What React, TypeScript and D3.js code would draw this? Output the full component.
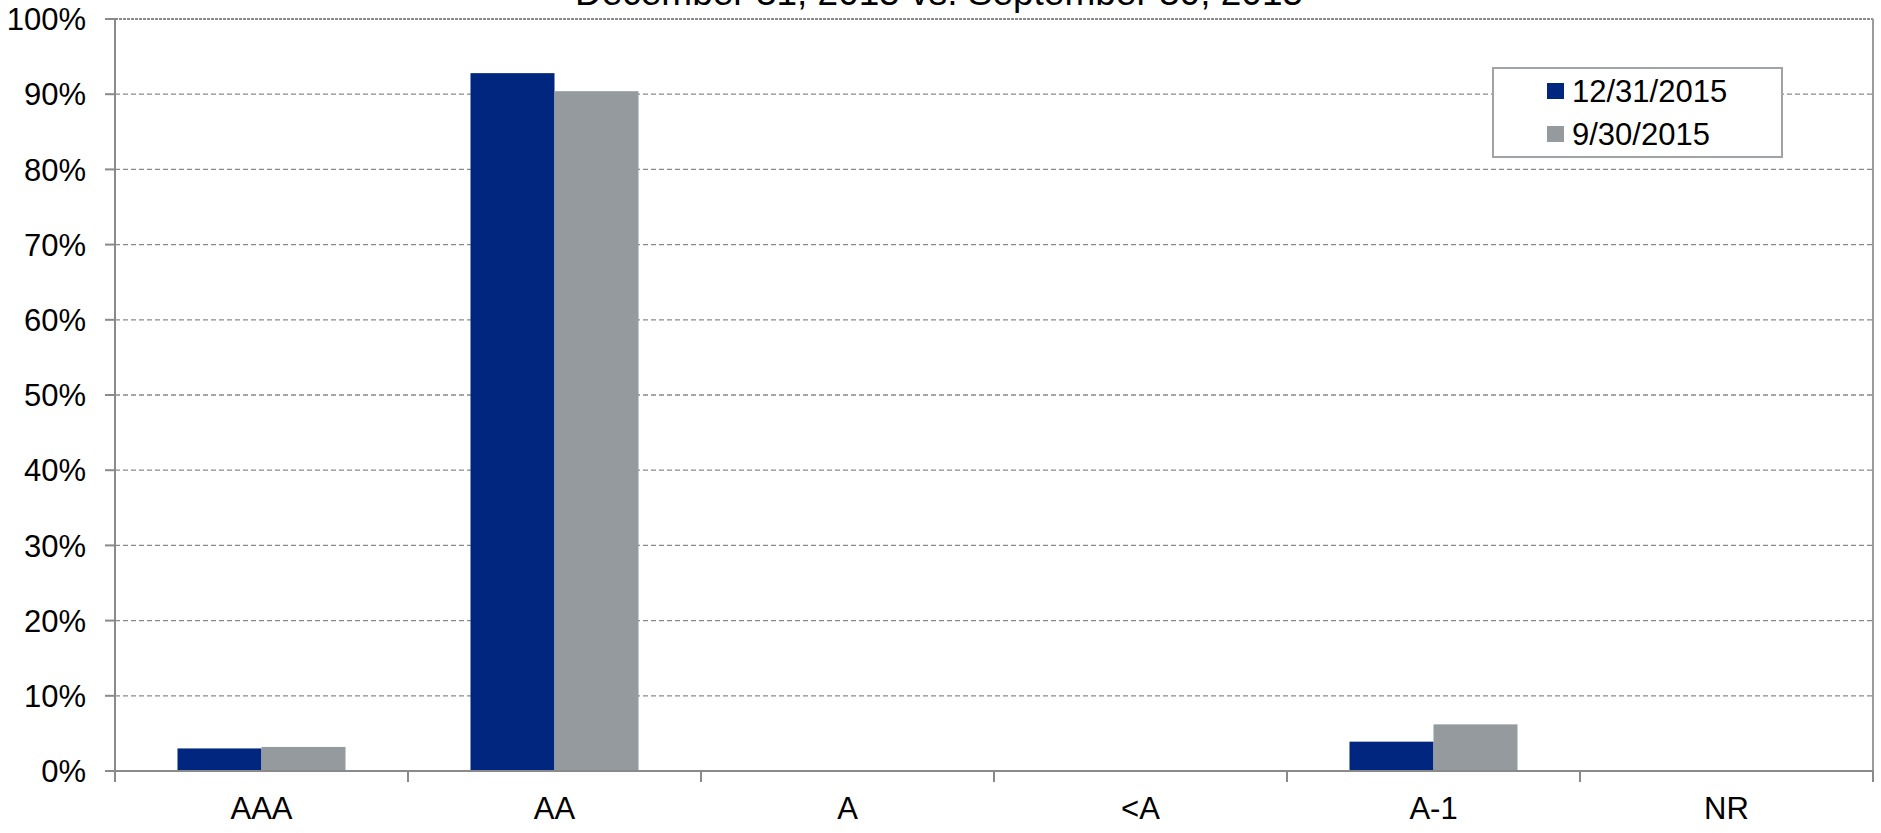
import React from "react";
import * as d3 from "d3";

const categories = ["AAA", "AA", "A", "<A", "A-1", "NR"];
const seriesNames = ["12/31/2015", "9/30/2015"];
const dec2015 = [3.0, 92.8, 0, 0, 3.9, 0];
const sep2015 = [3.2, 90.4, 0, 0, 6.2, 0];
const yTicks = [0, 10, 20, 30, 40, 50, 60, 70, 80, 90, 100];
const titleText = "December 31, 2015 vs. September 30, 2015";

const W = 1881;
const H = 833;
const margin = { left: 115, right: 8, top: 19, bottom: 62 };
const colors = ["#00267f", "#949a9d"];
const font = "'Liberation Sans', Arial, sans-serif";

export default function App() {
  const x0 = d3
    .scaleBand<string>()
    .domain(categories)
    .range([margin.left, W - margin.right])
    .paddingInner(0)
    .paddingOuter(0);
  const x1 = d3
    .scaleBand<string>()
    .domain(seriesNames)
    .range([0, x0.bandwidth()])
    .paddingInner(0)
    .paddingOuter(0.744);
  const y = d3.scaleLinear().domain([0, 100]).range([H - margin.bottom, margin.top]);

  const values = [dec2015, sep2015];
  const plotRight = W - margin.right;
  const y0 = y(0);

  const boundaries = categories.map((c) => x0(c)!).concat([plotRight]);

  return (
    <svg
      width={W}
      height={H}
      style={{ position: "absolute", left: 0, top: 0, background: "#fff" }}
      fontFamily={font}
    >
      {/* title, partly above the top edge */}
      <text x={939} y={5} fontSize={37} textAnchor="middle" fill="#000">
        {titleText}
      </text>

      {/* horizontal gridlines */}
      {yTicks.map((t) => (
        <line
          key={"g" + t}
          x1={margin.left}
          x2={plotRight}
          y1={y(t)}
          y2={y(t)}
          stroke="#8a8a8a"
          strokeWidth={t === 100 ? 2 : 1.3}
          strokeDasharray={t === 100 ? "3,1" : "5,3"}
        />
      ))}

      {/* bars */}
      {categories.map((c, i) =>
        seriesNames.map((s, k) => {
          const v = values[k][i];
          if (v <= 0) return null;
          return (
            <rect
              key={c + s}
              x={x0(c)! + x1(s)!}
              y={y(v)}
              width={x1.bandwidth()}
              height={y0 - y(v)}
              fill={colors[k]}
            />
          );
        })
      )}

      {/* right border */}
      <line x1={plotRight} x2={plotRight} y1={margin.top} y2={y0} stroke="#9a9da0" strokeWidth={2} />

      {/* y axis */}
      <line x1={margin.left} x2={margin.left} y1={margin.top} y2={y0} stroke="#8a8a8a" strokeWidth={2} />
      {yTicks.map((t) => (
        <g key={"y" + t}>
          <line x1={margin.left - 10} x2={margin.left} y1={y(t)} y2={y(t)} stroke="#8a8a8a" strokeWidth={2} />
          <text
            x={86}
            y={y(t)}
            dy="0.36em"
            fontSize={31}
            textAnchor="end"
            fill="#000"
          >
            {t + "%"}
          </text>
        </g>
      ))}

      {/* x axis */}
      <line x1={margin.left} x2={plotRight} y1={y0} y2={y0} stroke="#8a8a8a" strokeWidth={2} />
      {boundaries.map((bx, i) => (
        <line key={"xt" + i} x1={bx} x2={bx} y1={y0} y2={y0 + 11} stroke="#8a8a8a" strokeWidth={2} />
      ))}
      {categories.map((c) => (
        <text
          key={"xl" + c}
          x={x0(c)! + x0.bandwidth() / 2}
          y={819}
          fontSize={31}
          textAnchor="middle"
          fill="#000"
        >
          {c}
        </text>
      ))}

      {/* legend */}
      <g>
        <rect x={1493} y={68} width={289} height={89} fill="#fff" stroke="#a0a4a6" strokeWidth={2} />
        {seriesNames.map((s, k) => (
          <g key={"lg" + s}>
            <rect x={1547} y={83 + k * 43} width={17} height={16} fill={colors[k]} />
            <text x={1572} y={91 + k * 43} dy="0.36em" fontSize={31} fill="#000">
              {s}
            </text>
          </g>
        ))}
      </g>
    </svg>
  );
}
